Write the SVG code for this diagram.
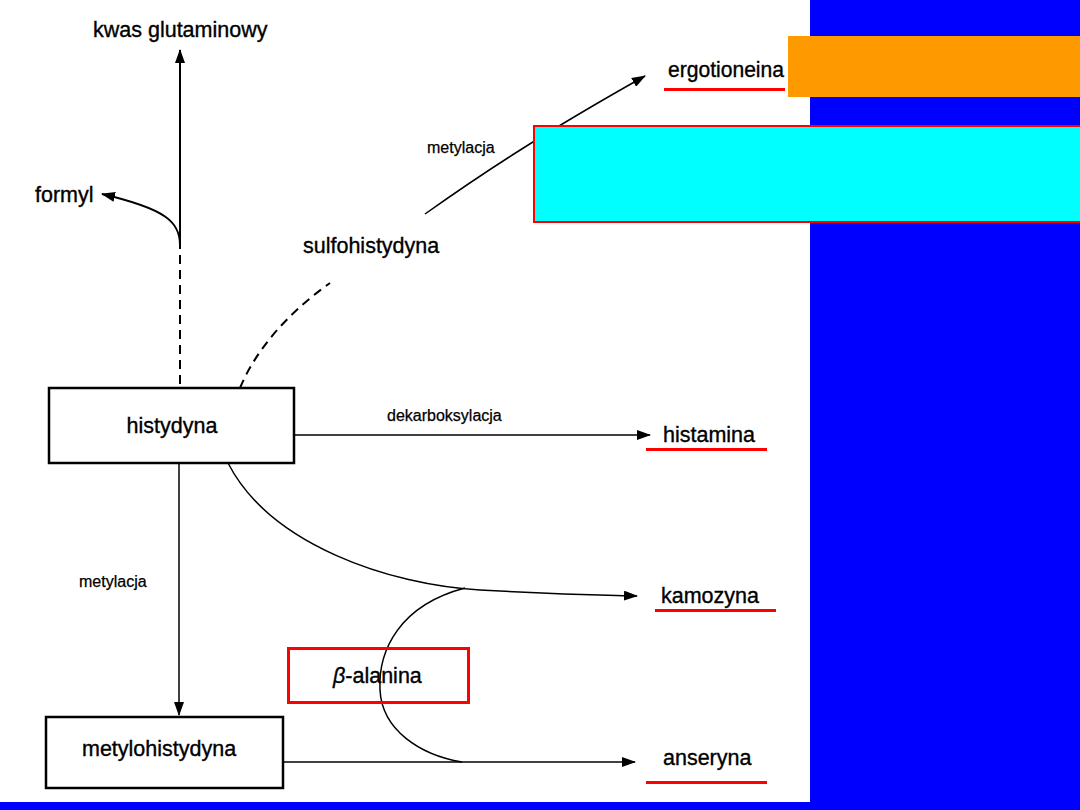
<svg xmlns="http://www.w3.org/2000/svg" width="1080" height="810" viewBox="0 0 1080 810">
<style>
  .lbl { font-family: "Liberation Sans", Arial, sans-serif; font-size: 21.5px; fill: #000; stroke: #000; stroke-width: 0.35; }
  .sm { font-family: "Liberation Sans", Arial, sans-serif; font-size: 16px; fill: #000; stroke: #000; stroke-width: 0.25; }
  .ln { fill: none; stroke: #000; stroke-width: 1.5; }
  .thk { fill: none; stroke: #000; stroke-width: 2; }
  .dash { fill: none; stroke: #000; stroke-width: 2; stroke-dasharray: 9 6; }
  .box { fill: #fff; stroke: #000; stroke-width: 2.5; }
  .ul { fill: #ff0000; }
</style>
<defs>
  <marker id="ah" viewBox="0 0 14 10" refX="13" refY="5" markerWidth="14" markerHeight="10" markerUnits="userSpaceOnUse" orient="auto">
    <path d="M0,0 L14,5 L0,10 Z" fill="#000"/>
  </marker>
</defs>
<rect x="0" y="0" width="1080" height="810" fill="#fff"/>

<g id="connectors">
  <line class="thk" x1="180" y1="240" x2="180" y2="50" marker-end="url(#ah)"/>
  <line class="dash" x1="180" y1="240" x2="180" y2="388"/>
  <path class="thk" d="M180,245 C180,222 166,209 102,194" marker-end="url(#ah)"/>
  <path class="dash" d="M240,388 C255,352 285,315 330,283"/>
  <path class="ln" d="M425,214 C480,175 540,135 645,76" marker-end="url(#ah)"/>
  <line class="ln" x1="294" y1="435" x2="650" y2="435" marker-end="url(#ah)"/>
  <path class="ln" d="M228,463 C270,545 390,585 480,590 S600,595 637,596" marker-end="url(#ah)"/>
  <path class="ln" d="M465,588 C400,605 378,650 380,690 C382,730 420,755 462,762"/>
  <line class="ln" x1="283" y1="762" x2="635" y2="762" marker-end="url(#ah)"/>
  <line class="ln" x1="179" y1="463" x2="179" y2="715" marker-end="url(#ah)"/>
  <text class="sm" x="427" y="153">metylacja</text>
  <text class="sm" x="387" y="421">dekarboksylacja</text>
  <text class="sm" x="79" y="587">metylacja</text>
</g>

<g id="node-kwas"><text class="lbl" x="93" y="37">kwas glutaminowy</text></g>
<g id="node-formyl"><text class="lbl" x="35" y="202">formyl</text></g>
<g id="node-sulfohistydyna"><text class="lbl" x="303" y="253">sulfohistydyna</text></g>
<g id="node-histydyna">
  <rect class="box" x="49" y="388" width="245" height="75"/>
  <text class="lbl" x="172" y="433" text-anchor="middle">histydyna</text>
</g>
<g id="node-metylohistydyna">
  <rect class="box" x="46" y="717" width="237" height="71"/>
  <text class="lbl" x="82" y="756">metylohistydyna</text>
</g>
<g id="node-histamina">
  <text class="lbl" x="663" y="442">histamina</text>
  <rect class="ul" x="646" y="448" width="121" height="3"/>
</g>
<g id="node-kamozyna">
  <text class="lbl" x="661" y="603">kamozyna</text>
  <rect class="ul" x="655" y="609" width="121" height="3"/>
</g>
<g id="node-anseryna">
  <text class="lbl" x="663" y="765">anseryna</text>
  <rect class="ul" x="646" y="781" width="121" height="3"/>
</g>
<g id="node-alanina">
  <rect x="288.5" y="648.5" width="180" height="54" fill="none" stroke="#ff0000" stroke-width="3"/>
  <text class="lbl" x="333" y="683"><tspan font-style="italic">β</tspan>-alanina</text>
</g>

<g id="overlays">
  <rect x="810" y="0" width="270" height="810" fill="#0000ff"/>
  <rect x="0" y="802" width="1080" height="8" fill="#0000ff"/>
  <rect x="788" y="36" width="292" height="61" fill="#ff9900"/>
  <rect x="534" y="126" width="550" height="96" fill="#00ffff" stroke="#ff0000" stroke-width="2"/>
</g>

<g id="node-ergotioneina">
  <text class="lbl" x="668" y="77" textLength="116" lengthAdjust="spacingAndGlyphs">ergotioneina</text>
  <rect class="ul" x="664" y="88" width="121" height="3"/>
</g>
</svg>
